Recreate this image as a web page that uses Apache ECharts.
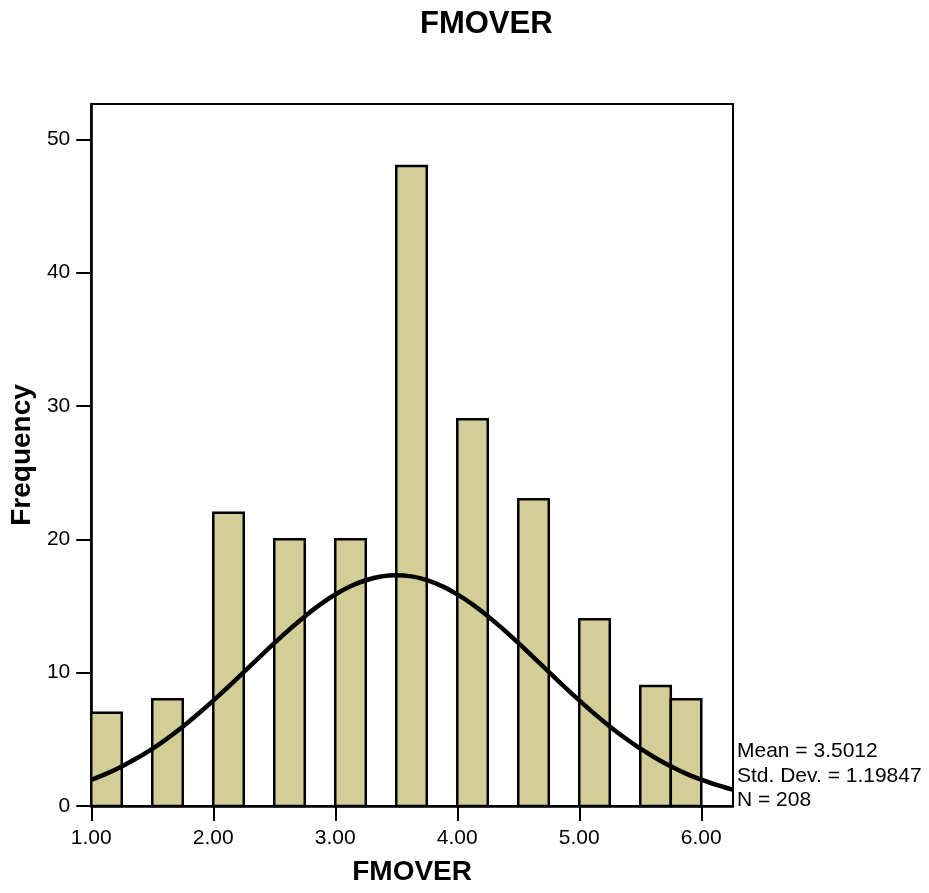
<!DOCTYPE html>
<html>
<head>
<meta charset="utf-8">
<script src="https://cdn.jsdelivr.net/npm/echarts@6/dist/echarts.min.js"></script>
<style>html,body{margin:0;padding:0;background:#fff}#chart{width:929px;height:893px}</style>
</head>
<body>
<div id="chart"></div>
<script>
// Histogram bins (start of each bin, width 0.25) and counts
var binStarts = [1.00, 1.50, 2.00, 2.50, 3.00, 3.50, 4.00, 4.50, 5.00, 5.50, 5.75];
var binWidth = 0.25;
var counts = [7, 8, 22, 20, 20, 48, 29, 23, 14, 9, 8];

// Fitted normal curve samples (x, expected frequency)
var curveX = [1.0,1.125,1.25,1.375,1.5,1.625,1.75,1.875,2.0,2.125,2.25,2.375,2.5,2.625,2.75,2.875,3.0,3.125,3.25,3.375,3.5,3.625,3.75,3.875,4.0,4.125,4.25,4.375,4.5,4.625,4.75,4.875,5.0,5.125,5.25,5.375,5.5,5.625,5.75,5.875,6.0,6.125,6.25,6.26];
var curveY = [1.96,2.43,2.97,3.59,4.29,5.08,5.95,6.90,7.90,8.95,10.04,11.13,12.21,13.25,14.22,15.10,15.86,16.48,16.93,17.21,17.31,17.22,16.94,16.49,15.87,15.12,14.24,13.27,12.23,11.15,10.06,8.97,7.92,6.91,5.97,5.10,4.31,3.60,2.98,2.43,1.97,1.58,1.25,1.22];

var xTicks = [1, 2, 3, 4, 5, 6];
var yTicks = [0, 10, 20, 30, 40, 50];
var statsLines = ['Mean = 3.5012', 'Std. Dev. = 1.19847', 'N = 208'];

var barData = binStarts.map(function (s, i) { return [s, s + binWidth, counts[i]]; });
var curveData = curveX.map(function (x, i) { return [x, curveY[i]]; });

var FONT = 'Liberation Sans, Arial, sans-serif';
var chart = echarts.init(document.getElementById('chart'), null, {renderer: 'canvas'});
chart.setOption({
  animation: false,
  backgroundColor: '#ffffff',
  title: {
    text: 'FMOVER', left: 415, top: 4,
    textStyle: {fontFamily: FONT, fontSize: 31, fontWeight: 'bold', color: '#000'}
  },
  grid: {left: 87, right: 196, top: 104, bottom: 87, show: true, borderColor: '#000', borderWidth: 2, backgroundColor: 'transparent'},
  xAxis: {
    type: 'value', min: 1, max: 6.26, interval: 1,
    name: 'FMOVER', nameLocation: 'middle', nameGap: 52,
    nameTextStyle: {fontFamily: FONT, fontSize: 28, fontWeight: 'bold', color: '#000'},
    axisLine: {show: true, lineStyle: {color: '#000', width: 2.5}},
    axisTick: {show: true, length: 15, customValues: xTicks, lineStyle: {color: '#000', width: 2}},
    axisLabel: {customValues: xTicks, margin: 22, fontFamily: FONT, fontSize: 21, color: '#000',
      formatter: function (v) { return v.toFixed(2); }},
    splitLine: {show: false}
  },
  yAxis: {
    type: 'value', min: 0, max: 52.65, interval: 10,
    name: 'Frequency', nameLocation: 'middle', nameGap: 50, nameRotate: 90,
    nameTextStyle: {fontFamily: FONT, fontSize: 28, fontWeight: 'bold', color: '#000'},
    axisLine: {show: true, lineStyle: {color: '#000', width: 2.5}},
    axisTick: {show: true, length: 15, customValues: yTicks, lineStyle: {color: '#000', width: 2}},
    axisLabel: {customValues: yTicks, margin: 21, fontFamily: FONT, fontSize: 21, color: '#000'},
    splitLine: {show: false}
  },
  series: [
    {
      type: 'custom',
      data: barData,
      encode: {x: [0, 1], y: 2},
      renderItem: function (params, api) {
        var p0 = api.coord([api.value(0), 0]);
        var p1 = api.coord([api.value(1), api.value(2)]);
        return {
          type: 'rect',
          shape: {x: p0[0], y: p1[1], width: p1[0] - p0[0], height: p0[1] - p1[1]},
          style: {fill: '#d3ce98', stroke: '#000', lineWidth: 2.5}
        };
      },
      z: 2
    },
    {
      type: 'line',
      data: curveData,
      smooth: true,
      showSymbol: false,
      lineStyle: {color: '#000', width: 4.5},
      z: 3
    }
  ],
  graphic: [{
    type: 'text', left: 737, top: 739,
    style: {text: statsLines.join('\n'), fontFamily: FONT, fontSize: 21, lineHeight: 24.5, fill: '#000'}
  }]
});
</script>
</body>
</html>
